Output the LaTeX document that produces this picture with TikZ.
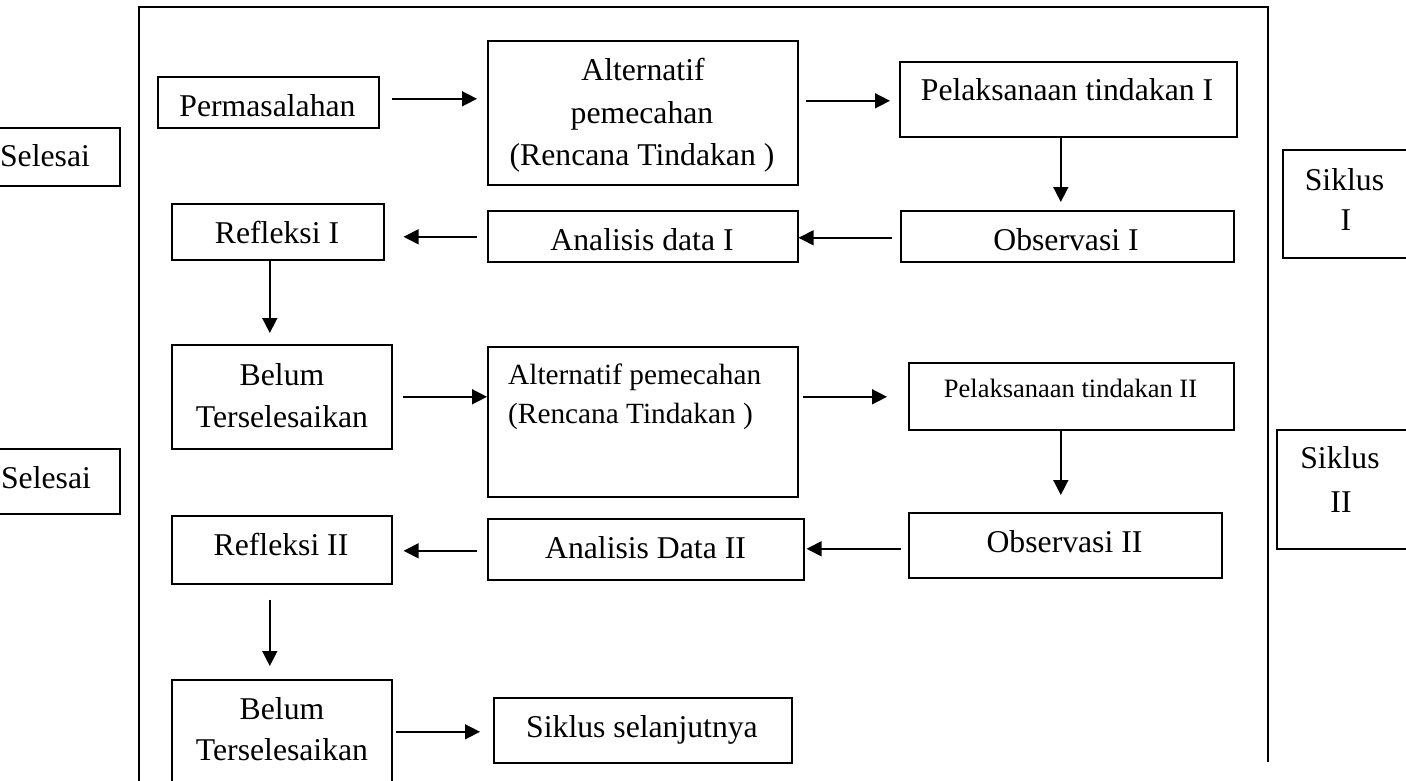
\documentclass[tikz,border=0pt]{standalone}
\usepackage{fontspec}
\setmainfont{Liberation Serif}
\usetikzlibrary{arrows.meta}
\begin{document}
\begin{tikzpicture}[x=1pt,y=-1pt,
  box/.style={draw, line width=1.6pt, inner sep=0pt, anchor=north west},
  txt/.style={inner sep=0pt, anchor=base, font=\fontsize{31.7pt}{42pt}\selectfont},
  txtb/.style={inner sep=0pt, anchor=base west, font=\fontsize{29.3pt}{39pt}\selectfont},
  txts/.style={inner sep=0pt, anchor=base, font=\fontsize{26.5pt}{34pt}\selectfont},
  arr/.style={line width=1.6pt, -{Triangle[length=15pt,width=15pt]}}]
\useasboundingbox (0,0) rectangle (1406,780);
\clip (0,0) rectangle (1406,780);

% outer frame
\coordinate (fbl) at (139,800);
\coordinate (ftl) at (139,7);
\coordinate (ftr) at (1268,7);
\coordinate (fbr) at (1268,762);
\draw[line width=1.6pt] (fbl) -- (ftl) -- (ftr) -- (fbr);

% boxes
\node[box, minimum width=149pt, minimum height=58pt] (sel1) at (-30,127) {};
\node[box, minimum width=149pt, minimum height=65pt] (sel2) at (-30,448) {};
\node[box, minimum width=221pt, minimum height=51pt] (perm) at (157,76) {};
\node[box, minimum width=310pt, minimum height=144pt] (alt1) at (487,40) {};
\node[box, minimum width=337pt, minimum height=75pt] (pel1) at (899,61) {};
\node[box, minimum width=333pt, minimum height=51pt] (obs1) at (900,210) {};
\node[box, minimum width=310pt, minimum height=51pt] (ana1) at (487,210) {};
\node[box, minimum width=212pt, minimum height=56pt] (ref1) at (171,203) {};
\node[box, minimum width=220pt, minimum height=104pt] (bel1) at (171,344) {};
\node[box, minimum width=310pt, minimum height=150pt] (alt2) at (487,346) {};
\node[box, minimum width=325pt, minimum height=67pt] (pel2) at (908,362) {};
\node[box, minimum width=313pt, minimum height=65pt] (obs2) at (908,512) {};
\node[box, minimum width=316pt, minimum height=61pt] (ana2) at (487,518) {};
\node[box, minimum width=220pt, minimum height=68pt] (ref2) at (171,515) {};
\node[box, minimum width=220pt, minimum height=130pt] (bel2) at (171,679) {};
\node[box, minimum width=298pt, minimum height=65pt] (sikl) at (493,697) {};
\node[box, minimum width=170pt, minimum height=108pt] (sik1) at (1282,149) {};
\node[box, minimum width=170pt, minimum height=119pt] (sik2) at (1276,429) {};

% texts
\node[txt] (tsel1) at (45,166) {Selesai};
\node[txt] (tsel2) at (46,488) {Selesai};
\node[txt] (tperm) at (267.5,116) {Permasalahan};
\node[txt] (talt1a) at (643,80) {Alternatif};
\node[txt] (talt1b) at (642,123) {pemecahan};
\node[txt] (talt1c) at (642,165) {(Rencana Tindakan )};
\node[txt] (tpel1) at (1067,100) {Pelaksanaan tindakan I};
\node[txt] (tobs1) at (1066,250) {Observasi I};
\node[txt] (tana1) at (642,250) {Analisis data I};
\node[txt] (tref1) at (277,243) {Refleksi I};
\node[txt] (tbel1a) at (282,385) {Belum};
\node[txt] (tbel1b) at (282,427) {Terselesaikan};
\node[txtb] (talt2a) at (508,384) {Alternatif pemecahan};
\node[txtb] (talt2b) at (508,423) {(Rencana Tindakan )};
\node[txts] (tpel2) at (1070.5,397) {Pelaksanaan tindakan II};
\node[txt] (tobs2) at (1064.5,552) {Observasi II};
\node[txt] (tana2) at (645.5,558) {Analisis Data II};
\node[txt] (tref2) at (281,555) {Refleksi II};
\node[txt] (tbel2a) at (282,719) {Belum};
\node[txt] (tbel2b) at (282,760) {Terselesaikan};
\node[txt] (tsikl) at (642,737) {Siklus selanjutnya};
\node[txt] (tsik1a) at (1344.5,190) {Siklus};
\node[txt] (tsik1b) at (1346,230) {I};
\node[txt] (tsik2a) at (1340,468) {Siklus};
\node[txt] (tsik2b) at (1341,512) {II};

% connectors
\draw[arr] ([xshift=12pt,yshift=3.5pt]perm.east) -- ([xshift=-10pt,yshift=14pt]alt1.west);
\draw[arr] ([xshift=7pt,yshift=12pt]alt1.east) -- ([xshift=-9pt,yshift=-1.5pt]pel1.west);
\draw[arr] ([xshift=-7.5pt]pel1.south) -- ([xshift=-6.5pt,yshift=8pt]obs1.north);
\draw[arr] ([xshift=-8pt,yshift=-1.5pt]obs1.west) -- ([yshift=-1.5pt]ana1.east);
\draw[arr] ([xshift=-10pt,yshift=-0.5pt]ana1.west) -- ([xshift=19pt,yshift=-5pt]ref1.east);
\draw[arr] ([xshift=-8pt]ref1.south) -- ([xshift=-12pt,yshift=11pt]bel1.north);
\draw[arr] ([xshift=10pt]bel1.east) -- ([yshift=25pt]alt2.west);
\draw[arr] ([xshift=4pt,yshift=25pt]alt2.east) -- ([xshift=-21pt,yshift=-0.5pt]pel2.west);
\draw[arr] ([xshift=-10.5pt]pel2.south) -- ([xshift=-4.5pt,yshift=17pt]obs2.north);
\draw[arr] ([xshift=-7pt,yshift=-3.5pt]obs2.west) -- ([xshift=2pt,yshift=0.5pt]ana2.east);
\draw[arr] ([xshift=-10pt,yshift=-1.5pt]ana2.west) -- ([xshift=11pt,yshift=-1pt]ref2.east);
\draw[arr] ([xshift=-12pt,yshift=-15pt]ref2.south) -- ([xshift=-12pt,yshift=13pt]bel2.north);
\draw[arr] ([xshift=3pt,yshift=13pt]bel2.east) -- ([xshift=-13pt,yshift=-1.5pt]sikl.west);
\end{tikzpicture}
\end{document}
